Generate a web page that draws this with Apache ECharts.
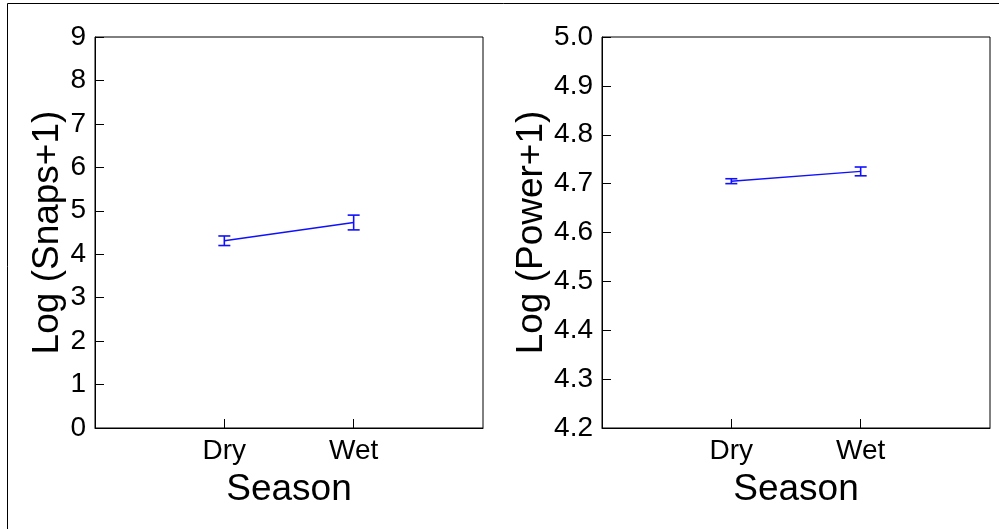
<!DOCTYPE html>
<html><head><meta charset="utf-8">
<script src="https://cdn.jsdelivr.net/npm/echarts@6/dist/echarts.min.js"></script>
<style>html,body{margin:0;padding:0;background:#fff}#c{width:999px;height:529px}</style>
</head><body><div id="c"></div>
<script>
const categories = ['Dry', 'Wet'];
const catPositions = [1, 2];
const snapsMean = [4.31, 4.73];
const snapsErr = [0.11, 0.17];
const powerMean = [4.705, 4.725];
const powerErr = [0.005, 0.009];
const snapsTicks = [0,1,2,3,4,5,6,7,8,9];
const powerTicks = ['4.2','4.3','4.4','4.5','4.6','4.7','4.8','4.9','5.0'];

const FONT = 'Liberation Sans';
const chart = echarts.init(document.getElementById('c'));

function xAxis(idx) {
  return {
    gridIndex: idx, type: 'value', min: 0, max: 3, interval: 1,
    name: 'Season', nameLocation: 'middle', nameGap: 43,
    nameTextStyle: { fontFamily: FONT, fontSize: 37, color: '#000' },
    axisLine: { lineStyle: { color: '#000', width: 1 } },
    axisTick: { inside: true, length: 9, customValues: catPositions, lineStyle: { color: '#000' } },
    axisLabel: { customValues: catPositions, fontFamily: FONT, fontSize: 28, color: '#000', margin: 9,
      formatter: v => categories[catPositions.indexOf(Math.round(v))] || '' },
    splitLine: { show: false }
  };
}
function yAxis(idx, name, min, max, interval, fmt) {
  return {
    gridIndex: idx, type: 'value', min: min, max: max, interval: interval,
    name: name, nameLocation: 'middle', nameGap: fmt ? 47 : 26,
    nameTextStyle: { fontFamily: FONT, fontSize: 37, color: '#000' },
    axisLine: { lineStyle: { color: '#000', width: 1 } },
    axisTick: { inside: true, length: 9, lineStyle: { color: '#000' } },
    axisLabel: { fontFamily: FONT, fontSize: 28, color: '#000', margin: 9,
      formatter: fmt ? (v => v.toFixed(1)) : (v => String(Math.round(v))) },
    splitLine: { show: false }
  };
}
function errSeries(idx, means, errs) {
  return {
    type: 'custom', xAxisIndex: idx, yAxisIndex: idx,
    data: catPositions.map((x, i) => [x, means[i] - errs[i], means[i] + errs[i]]),
    renderItem: (params, api) => {
      const lo = api.coord([api.value(0), api.value(1)]);
      const hi = api.coord([api.value(0), api.value(2)]);
      const w = 6;
      const st = { stroke: '#1010ff', lineWidth: 1.6 };
      return { type: 'group', children: [
        { type: 'line', shape: { x1: lo[0], y1: lo[1], x2: hi[0], y2: hi[1] }, style: st },
        { type: 'line', shape: { x1: lo[0]-w, y1: lo[1], x2: lo[0]+w, y2: lo[1] }, style: st },
        { type: 'line', shape: { x1: hi[0]-w, y1: hi[1], x2: hi[0]+w, y2: hi[1] }, style: st }
      ]};
    },
    z: 3
  };
}
function lineSeries(idx, means) {
  return {
    type: 'line', xAxisIndex: idx, yAxisIndex: idx,
    data: catPositions.map((x, i) => [x, means[i]]),
    showSymbol: false, lineStyle: { color: '#1010ff', width: 1.4 }, animation: false
  };
}

chart.setOption({
  animation: false,
  backgroundColor: '#fff',
  grid: [
    { left: 95, top: 37, width: 388, height: 391, show: true, borderColor: '#000', borderWidth: 1, backgroundColor: 'transparent' },
    { left: 602, top: 37, width: 388, height: 391, show: true, borderColor: '#000', borderWidth: 1, backgroundColor: 'transparent' }
  ],
  xAxis: [xAxis(0), xAxis(1)],
  yAxis: [
    yAxis(0, 'Log (Snaps+1)', snapsTicks[0], snapsTicks[snapsTicks.length-1], 1, false),
    yAxis(1, 'Log (Power+1)', parseFloat(powerTicks[0]), parseFloat(powerTicks[powerTicks.length-1]), 0.1, true)
  ],
  series: [lineSeries(0, snapsMean), errSeries(0, snapsMean, snapsErr), lineSeries(1, powerMean), errSeries(1, powerMean, powerErr)],
  graphic: [
    { type: 'line', shape: { x1: 7.5, y1: 3.5, x2: 999, y2: 3.5 }, style: { stroke: '#000', lineWidth: 1 } },
    { type: 'line', shape: { x1: 7.5, y1: 3.5, x2: 7.5, y2: 529 }, style: { stroke: '#000', lineWidth: 1 } }
  ]
});
</script></body></html>
